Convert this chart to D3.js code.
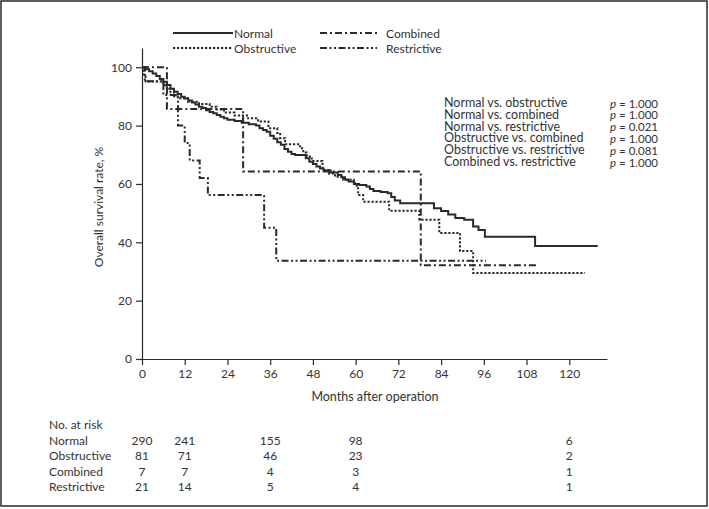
<!DOCTYPE html>
<html>
<head>
<meta charset="utf-8">
<script src="https://cdn.jsdelivr.net/npm/d3@7"></script>
<style>
  html, body { margin: 0; padding: 0; background: #fff; }
  svg { display: block; }
  text { font-family: Lato, "Open Sans", sans-serif; fill: #333; }
</style>
</head>
<body>
<svg id="chart" width="709" height="509"></svg>
<script>
// ---- data ----
// Kaplan-Meier steps: [month, survival %]
const normalSteps = [[0,100],[1,99.3],[2,98.6],[3,97.9],[4,97.0],[5,96.0],[6,95.0],[7,93.9],[8,92.6],[9,91.6],[10,90.8],[11,89.9],[12,89.3],[13,88.6],[14,87.9],[15,87.2],[16,86.5],[17,86.0],[18,85.3],[19,84.7],[20,84.2],[21,83.6],[22,83.0],[23,82.5],[24,82.0],[26,81.6],[28,81.0],[30,80.5],[32,80.0],[33,79.1],[34,78.5],[35,77.9],[36,76.5],[37,75.5],[38,74.3],[39,73.4],[40,72.0],[41,71.0],[42,70.3],[43,69.9],[46,68.8],[47,67.6],[48,66.8],[49,66.0],[50,65.3],[51,64.6],[53,63.9],[55,63.1],[56,62.3],[57,61.5],[58,60.8],[59.5,60.0],[61,59.6],[63,59.1],[64,58.3],[65,57.6],[67,57.2],[69,56.8],[70,55.5],[71,54.3],[72.5,53.4],[82,51.7],[84,50.7],[86,49.5],[88,48.3],[90.5,47.7],[93,45.4],[94.5,44.2],[96.3,41.9],[110.4,38.7]];
const normalEnd = 128;
const obstructiveSteps = [[0,100],[0.5,97.5],[1,95.1],[6,93.8],[7,92.6],[8,91.4],[9,90.1],[10,89.4],[12.9,88.2],[16,87.4],[19,86.5],[21,85.5],[23,84.5],[26,83.5],[29.8,82.5],[32.6,81.4],[35.5,79.1],[38,77.5],[38.8,75.7],[40.2,73.6],[44.4,72.2],[45.3,70.8],[46.3,69.4],[47.7,67.9],[50.7,64.8],[52.5,63.6],[54.2,62.5],[56.5,61.4],[59.5,60.2],[60.3,58.5],[60.7,56.2],[62.1,53.9],[69.4,50.8],[77.9,47.7],[83.5,43.2],[89.3,37.0],[93.0,29.5]];
const obstructiveEnd = 124.4;
const combinedSteps = [[0,100],[7.0,85.7],[28.4,64.3],[78.3,32.1]];
const combinedEnd = 111.2;
const restrictiveSteps = [[0,100],[0.8,95.2],[6.0,90.5],[10.1,80.0],[12.0,74.0],[13.4,68.0],[16.2,62.0],[18.5,56.2],[34.3,45.0],[37.7,33.7]];
const restrictiveEnd = 96.6;

const seriesNames = ["Normal", "Obstructive", "Combined", "Restrictive"];
const xTicks = [0,12,24,36,48,60,72,84,96,108,120];
const yTicks = [0,20,40,60,80,100];

const pTests = ["Normal vs. obstructive","Normal vs. combined","Normal vs. restrictive","Obstructive vs. combined","Obstructive vs. restrictive","Combined vs. restrictive"];
const pValues = ["1.000","1.000","0.021","1.000","0.081","1.000"];

const riskMonths = [0,12,36,60,120];
const riskNormal = [290,241,155,98,6];
const riskObstructive = [81,71,46,23,2];
const riskCombined = [7,7,4,3,1];
const riskRestrictive = [21,14,5,4,1];

// ---- drawing ----
const svg = d3.select("#chart");
const ink = "#2a2a2a";

svg.append("rect").attr("x",1).attr("y",1).attr("width",706).attr("height",505)
  .attr("fill","none").attr("stroke",ink).attr("stroke-width",1.5);

const x = d3.scaleLinear().domain([0,130.6]).range([142,607]);
const y = d3.scaleLinear().domain([0,106.6]).range([359,48]);

const styles = {
  Normal: {dash: null},
  Obstructive: {dash: "2.2,1.8"},
  Combined: {dash: "7,3,2,3"},
  Restrictive: {dash: "7,2.5,2,2.5,2,2.5"}
};

// axes
const xAxis = svg.append("g").attr("transform","translate(0,359)")
  .call(d3.axisBottom(x).tickValues(xTicks).tickSize(6).tickPadding(4).tickSizeOuter(0));
const yAxis = svg.append("g").attr("transform","translate(142,0)")
  .call(d3.axisLeft(y).tickValues(yTicks).tickSize(6).tickPadding(4).tickSizeOuter(0));
[xAxis,yAxis].forEach(g => {
  g.select(".domain").attr("stroke",ink).attr("stroke-width",1.2);
  g.selectAll(".tick line").attr("stroke",ink).attr("stroke-width",1.2);
  g.selectAll(".tick text").attr("font-size",12).attr("font-family","Lato, 'Open Sans', sans-serif").attr("fill","#333");
});

svg.append("text").attr("x",375).attr("y",396).attr("text-anchor","middle")
  .attr("dominant-baseline","central").attr("font-size",12.5).text("Months after operation");
svg.append("text").attr("transform","translate(98,207) rotate(-90)").attr("text-anchor","middle")
  .attr("dominant-baseline","central").attr("font-size",12).text("Overall survival rate, %");

// curves
const line = d3.line().x(d => x(d[0])).y(d => y(d[1])).curve(d3.curveStepAfter);
function drawCurve(steps, end, name) {
  const pts = steps.concat([[end, steps[steps.length-1][1]]]);
  svg.append("path").datum(pts).attr("d", line)
    .attr("fill","none").attr("stroke",ink).attr("stroke-width",2)
    .attr("stroke-dasharray", styles[name].dash);
}
drawCurve(combinedSteps, combinedEnd, "Combined");
drawCurve(restrictiveSteps, restrictiveEnd, "Restrictive");
drawCurve(obstructiveSteps, obstructiveEnd, "Obstructive");
drawCurve(normalSteps, normalEnd, "Normal");

// legend
const legendPos = [
  {name:"Normal", x1:173, x2:233, y:33},
  {name:"Obstructive", x1:173, x2:233, y:48},
  {name:"Combined", x1:320, x2:377, y:33},
  {name:"Restrictive", x1:320, x2:377, y:48}
];
legendPos.forEach(l => {
  svg.append("line").attr("x1",l.x1).attr("x2",l.x2).attr("y1",l.y).attr("y2",l.y)
    .attr("stroke",ink).attr("stroke-width",2).attr("stroke-dasharray",styles[l.name].dash);
  svg.append("text").attr("x", l.x2 + (l.name==="Normal"||l.name==="Obstructive" ? 1 : 9)).attr("y", l.y)
    .attr("dominant-baseline","central").attr("font-size",12).text(l.name);
});

// p-values
pTests.forEach((t,i) => {
  const yy = 102.5 + i*11.8;
  svg.append("text").attr("x",444).attr("y",yy).attr("dominant-baseline","central")
    .attr("font-size",12.5).text(t);
  const tx = svg.append("text").attr("x",610).attr("y",yy).attr("dominant-baseline","central")
    .attr("font-size",11.5);
  tx.append("tspan").attr("font-style","italic").text("p");
  tx.append("tspan").text(" = " + pValues[i]);
});

// number at risk table
const rowY = [424.5, 440, 455.5, 471, 486.5];
svg.append("text").attr("x",49).attr("y",rowY[0]).attr("dominant-baseline","central")
  .attr("font-size",12).text("No. at risk");
const riskRows = [riskNormal, riskObstructive, riskCombined, riskRestrictive];
riskRows.forEach((row, r) => {
  svg.append("text").attr("x",49).attr("y",rowY[r+1]).attr("dominant-baseline","central")
    .attr("font-size",12).text(seriesNames[r]);
  row.forEach((v, c) => {
    svg.append("text").attr("x", x(riskMonths[c])).attr("y", rowY[r+1])
      .attr("text-anchor","middle").attr("dominant-baseline","central")
      .attr("font-size",12).text(v);
  });
});
</script>
</body>
</html>
